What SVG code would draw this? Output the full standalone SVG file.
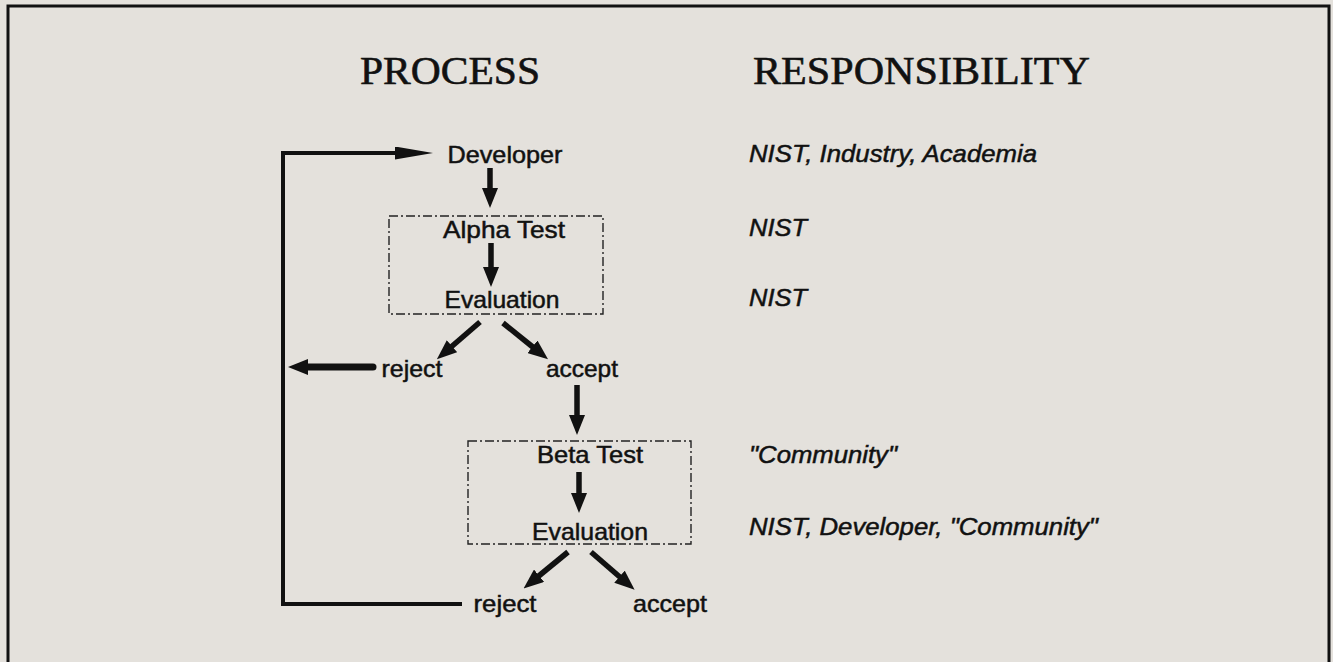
<svg xmlns="http://www.w3.org/2000/svg" width="1333" height="662" viewBox="0 0 1333 662">
<defs>
<style>
.bg{fill:#e4e1dc}
.frame{fill:none;stroke:#111;stroke-width:3}
.hdr{font-family:"Liberation Serif",serif;font-size:40px;fill:#111;stroke:#111;stroke-width:0.6}
.lbl{font-family:"Liberation Sans",Arial,sans-serif;font-size:24px;fill:#111;stroke:#111;stroke-width:0.5;text-anchor:middle}
.resp{font-family:"Liberation Sans",Arial,sans-serif;font-size:24px;font-style:italic;fill:#111;stroke:#111;stroke-width:0.5}
.box{fill:none;stroke:#222;stroke-width:1.4;stroke-dasharray:9,3,2,3}
.arr{fill:none;stroke:#111;stroke-width:5.5;marker-end:url(#ah)}
.loop{fill:none;stroke:#111;stroke-width:4}
</style>
<marker id="ah" markerUnits="userSpaceOnUse" markerWidth="20" markerHeight="16" refX="2" refY="8" orient="auto">
<path d="M0,0 L20,8 L0,16 z" fill="#111"/>
</marker>
<marker id="ahlong" markerUnits="userSpaceOnUse" markerWidth="38" markerHeight="13" refX="2" refY="6.5" orient="auto">
<path d="M0,0 L38,6.5 L0,13 z" fill="#111"/>
</marker>
</defs>
<rect class="bg" x="0" y="0" width="1333" height="662"/>
<rect class="frame" x="8" y="6" width="1321" height="670"/>
<text class="hdr" x="360" y="84" textLength="180" lengthAdjust="spacingAndGlyphs">PROCESS</text>
<text class="hdr" x="753" y="84" textLength="337" lengthAdjust="spacingAndGlyphs">RESPONSIBILITY</text>

<g id="connectors">
<path class="loop" d="M462,604 H283 V153 H397" marker-end="url(#ahlong)"/>
<line class="arr" x1="490" y1="168" x2="490" y2="190"/>
<line class="arr" x1="491" y1="243" x2="491" y2="269"/>
<line class="arr" x1="480" y1="322" x2="450.5" y2="347.5"/>
<line class="arr" x1="503" y1="323" x2="534" y2="348"/>
<line class="arr" x1="373" y1="367" x2="306" y2="367" style="stroke-width:7;stroke-linecap:round"/>
<line class="arr" x1="577" y1="385" x2="577" y2="417"/>
<line class="arr" x1="579" y1="472" x2="579" y2="495"/>
<line class="arr" x1="568" y1="552" x2="537.5" y2="577"/>
<line class="arr" x1="591" y1="552" x2="621" y2="578"/>
</g>

<g id="alpha-box"><rect class="box" x="389" y="216" width="214" height="98"/></g>
<g id="beta-box"><rect class="box" x="468" y="441" width="223" height="103"/></g>

<g id="developer"><text class="lbl" x="505" y="163" textLength="115" lengthAdjust="spacingAndGlyphs">Developer</text></g>
<g id="alpha-test"><text class="lbl" x="504" y="238" textLength="122" lengthAdjust="spacingAndGlyphs">Alpha Test</text></g>
<g id="alpha-eval"><text class="lbl" x="502" y="308" textLength="115" lengthAdjust="spacingAndGlyphs">Evaluation</text></g>
<g id="alpha-reject"><text class="lbl" x="412" y="377" textLength="61" lengthAdjust="spacingAndGlyphs">reject</text></g>
<g id="alpha-accept"><text class="lbl" x="582" y="377" textLength="72" lengthAdjust="spacingAndGlyphs">accept</text></g>
<g id="beta-test"><text class="lbl" x="590" y="463" textLength="106" lengthAdjust="spacingAndGlyphs">Beta Test</text></g>
<g id="beta-eval"><text class="lbl" x="590" y="540" textLength="116" lengthAdjust="spacingAndGlyphs">Evaluation</text></g>
<g id="beta-reject"><text class="lbl" x="505" y="612" textLength="63" lengthAdjust="spacingAndGlyphs">reject</text></g>
<g id="beta-accept"><text class="lbl" x="670" y="612" textLength="74" lengthAdjust="spacingAndGlyphs">accept</text></g>

<g id="responsibility">
<text class="resp" x="749" y="162" textLength="288" lengthAdjust="spacingAndGlyphs">NIST, Industry, Academia</text>
<text class="resp" x="749" y="236" textLength="58" lengthAdjust="spacingAndGlyphs">NIST</text>
<text class="resp" x="749" y="306" textLength="58" lengthAdjust="spacingAndGlyphs">NIST</text>
<text class="resp" x="749" y="463" textLength="148" lengthAdjust="spacingAndGlyphs">"Community"</text>
<text class="resp" x="749" y="535" textLength="349" lengthAdjust="spacingAndGlyphs">NIST, Developer, "Community"</text>
</g>
</svg>
